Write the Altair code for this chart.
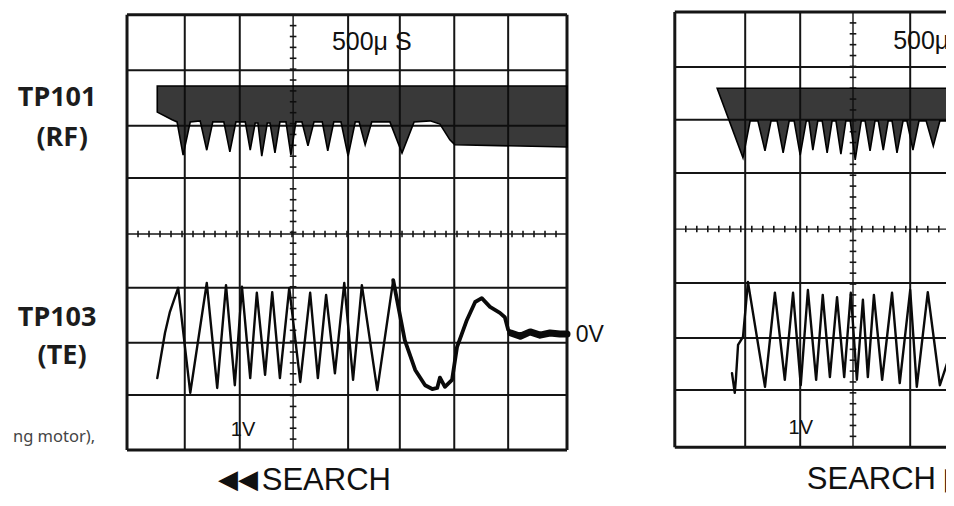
import altair as alt
import numpy as np
import pandas as pd

# ------------------------------------------------------------------
# Frame: everything is expressed in oscilloscope divisions
# (x = time divisions of the left screen, y = volts/div, 0 = centre line)
# ------------------------------------------------------------------
X_DOMAIN = [-2.164, 14.891]
Y_DOMAIN = [-4.853, 4.154]

# Graticule of the left screen (divisions)
L_GRID_X = [0.0, 1.05, 2.05, 3.02, 4.02, 4.96, 5.95, 6.93, 8.0]
L_GRID_Y = [-3.97, -2.96, -2.0, -0.99, 0.0, 1.03, 1.99, 3.01, 4.03]
L_CENTER_X = 3.02
L_CENTER_Y = 0.0

# Graticule of the right screen (cut off at the right edge)
R_GRID_X = [9.96, 11.24, 12.24, 13.2, 14.24]
R_GRID_Y = [-3.92, -2.87, -1.91, -0.90, 0.09, 1.12, 2.10, 3.07, 4.08]
R_CENTER_X = 13.2
R_CENTER_Y = 0.09

# ---------------- RF signal (TP101) envelopes ----------------
RF_L_TOP = 2.72
RF_L_T = [0.55, 0.82, 0.91, 1.02, 1.15, 1.33, 1.45, 1.56, 1.76, 1.87, 1.98, 2.15, 2.24,
          2.33, 2.38, 2.45, 2.55, 2.60, 2.69, 2.78, 2.89, 2.98, 3.07, 3.18, 3.29, 3.40,
          3.55, 3.65, 3.76, 3.89, 4.02, 4.15, 4.22, 4.33, 4.45, 4.78, 5.00, 5.22, 5.51,
          5.69, 5.87, 5.96, 8.00]
RF_L_LO = [2.24, 2.10, 2.06, 1.45, 2.06, 2.08, 1.54, 2.06, 2.06, 1.51, 2.06, 2.06, 1.54,
           2.04, 2.04, 1.43, 2.04, 2.04, 1.49, 2.06, 2.06, 1.45, 2.06, 2.06, 1.62, 2.06,
           2.06, 1.53, 2.06, 2.06, 1.43, 2.06, 2.06, 1.64, 2.06, 2.06, 1.49, 2.06, 2.08,
           2.02, 1.73, 1.64, 1.60]

RF_R_TOP = 2.68
RF_R_T = [10.73, 11.20, 11.33, 11.47, 11.60, 11.71, 11.82, 11.93, 12.04, 12.13, 12.24,
          12.35, 12.40, 12.47, 12.56, 12.64, 12.73, 12.82, 12.89, 12.98, 13.07, 13.15,
          13.24, 13.35, 13.42, 13.51, 13.60, 13.66, 13.75, 13.84, 13.91, 14.00, 14.11,
          14.18, 14.29, 14.40, 14.53, 14.66, 14.78, 14.93]
RF_R_LO = [2.68, 1.40, 2.08, 2.08, 1.53, 2.08, 2.08, 1.49, 2.08, 2.08, 1.45,
           2.08, 2.08, 1.54, 2.08, 2.08, 1.49, 2.08, 2.08, 1.47, 2.08, 2.08,
           1.36, 2.08, 2.08, 1.53, 2.08, 2.08, 1.54, 2.08, 2.08, 1.49, 2.08,
           2.08, 1.54, 2.08, 2.08, 1.62, 2.08, 2.08]

# ---------------- TE signal (TP103) ----------------
TE_L_FAST_T = [0.55, 0.69, 0.78, 0.93, 1.15, 1.45, 1.64, 1.80, 1.96, 2.09, 2.24, 2.36, 2.51,
               2.64, 2.78, 2.95, 3.15, 3.33, 3.47, 3.62, 3.78, 3.95, 4.11, 4.27, 4.55, 4.84]
TE_L_FAST_V = [-2.65, -1.82, -1.43, -0.99, -2.92, -0.90, -2.83, -0.94, -2.78, -0.97, -2.65,
               -1.08, -2.59, -1.07, -2.65, -0.99, -2.72, -1.08, -2.65, -1.12, -2.56, -0.90,
               -2.68, -0.94, -2.87, -0.85]
TE_L_SLOW_T = [4.84, 5.05, 5.24, 5.42, 5.55, 5.64, 5.69, 5.78, 5.91, 6.00, 6.18, 6.33, 6.45,
               6.60, 6.78, 6.87, 6.93, 6.98]
TE_L_SLOW_V = [-0.85, -1.95, -2.50, -2.78, -2.85, -2.83, -2.64, -2.81, -2.68, -2.08, -1.58,
               -1.25, -1.18, -1.34, -1.45, -1.53, -1.76, -1.82]
TE_L_TAIL_T = [6.98, 7.15, 7.33, 7.51, 7.69, 7.87, 8.00]
TE_L_TAIL_V = [-1.82, -1.88, -1.80, -1.86, -1.82, -1.84, -1.84]

TE_R_T = [11.00, 11.05, 11.07, 11.11, 11.20, 11.29, 11.60, 11.78, 11.96, 12.11, 12.25, 12.38,
          12.53, 12.65, 12.78, 12.91, 13.04, 13.16, 13.27, 13.38, 13.47, 13.58, 13.73, 13.91,
          14.05, 14.24, 14.36, 14.56, 14.78, 14.93]
TE_R_V = [-2.56, -2.92, -2.68, -2.04, -1.89, -0.88, -2.81, -1.08, -2.68, -1.08, -2.78, -1.03,
          -2.68, -1.12, -2.63, -1.16, -2.63, -1.08, -2.68, -1.21, -2.63, -1.12, -2.68, -1.08,
          -2.74, -1.03, -2.81, -1.07, -2.78, -2.32]

# ---------------- Text ----------------
PROBE_LABELS = ["TP101", "(RF)", "TP103", "(TE)"]
PROBE_X = [-1.27, -1.18, -1.27, -1.18]
PROBE_Y = [2.50, 1.76, -1.54, -2.24]

CAPTION = "ng motor),"
CAPTION_X = -0.58
CAPTION_Y = -3.73

SCOPE_C_TEXT = ["500μ S", "1V", "1V"]
SCOPE_C_X = [4.45, 2.11, 12.25]
SCOPE_C_Y = [3.53, -3.60, -3.57]
SCOPE_C_SIZE = [25, 20, 20]

SCOPE_L_TEXT = ["0V", "SEARCH", "500μ S", "SEARCH ▶▶"]
SCOPE_L_X = [8.16, 2.45, 13.93, 12.36]
SCOPE_L_Y = [-1.86, -4.54, 3.55, -4.52]
SCOPE_L_SIZE = [23, 31, 25, 31]

ARROW_TEXT = "◀◀"
ARROW_X = 2.02
ARROW_Y = -4.53

# ------------------------------------------------------------------
xs = alt.Scale(domain=X_DOMAIN, nice=False, zero=False)
ys = alt.Scale(domain=Y_DOMAIN, nice=False, zero=False)


def X(f):
    return alt.X(f, type="quantitative", scale=xs, axis=None)


def Y(f):
    return alt.Y(f, type="quantitative", scale=ys, axis=None)


rows = []


def hline(y, x0, x1, w):
    rows.append(dict(x=x0, x2=x1, y=y, y2=y, w=w))


def vline(x, y0, y1, w):
    rows.append(dict(x=x, x2=x, y=y0, y2=y1, w=w))


# left screen graticule
for gx in L_GRID_X:
    w = 3.0 if gx in (L_GRID_X[0], L_GRID_X[-1]) else (1.4 if gx == L_CENTER_X else 2.0)
    vline(gx, L_GRID_Y[0], L_GRID_Y[-1], w)
for gy in L_GRID_Y:
    w = 3.0 if gy in (L_GRID_Y[0], L_GRID_Y[-1]) else (1.4 if gy == L_CENTER_Y else 2.0)
    hline(gy, L_GRID_X[0], L_GRID_X[-1], w)
for t in np.arange(L_GRID_X[0], L_GRID_X[-1] + 0.01, 0.2):
    vline(t, L_CENTER_Y - 0.06, L_CENTER_Y + 0.06, 1.6)
for t in np.arange(L_GRID_Y[0], L_GRID_Y[-1] + 0.01, 0.2):
    hline(t, L_CENTER_X - 0.06, L_CENTER_X + 0.06, 1.6)

# right screen graticule
for gx in R_GRID_X:
    w = 3.0 if gx == R_GRID_X[0] else (1.4 if gx == R_CENTER_X else 2.0)
    vline(gx, R_GRID_Y[0], R_GRID_Y[-1], w)
for gy in R_GRID_Y:
    w = 3.0 if gy in (R_GRID_Y[0], R_GRID_Y[-1]) else (1.4 if gy == R_CENTER_Y else 2.0)
    hline(gy, R_GRID_X[0], X_DOMAIN[1], w)
for t in np.arange(R_GRID_X[0] + 0.2, X_DOMAIN[1], 0.2):
    vline(t, R_CENTER_Y - 0.06, R_CENTER_Y + 0.06, 1.6)
for t in np.arange(R_GRID_Y[0], R_GRID_Y[-1] + 0.01, 0.2):
    hline(t, R_CENTER_X - 0.06, R_CENTER_X + 0.06, 1.6)

grid_df = pd.DataFrame(rows)

grid = alt.Chart(grid_df).mark_rule(color="#151515", clip=True).encode(
    x=X("x"), x2="x2", y=Y("y"), y2="y2",
    strokeWidth=alt.StrokeWidth("w:Q", scale=None),
)


def rf_layer(t, lo, top):
    df = pd.DataFrame({"t": t, "lo": lo, "hi": [top] * len(t)})
    return alt.Chart(df).mark_area(
        color="#0d0d0d", fillOpacity=0.82, stroke="#000", strokeWidth=1.6, clip=True
    ).encode(x=X("t"), y=Y("lo"), y2="hi")


def te_layer(t, v, w):
    df = pd.DataFrame({"t": t, "v": v, "i": list(range(len(t)))})
    return alt.Chart(df).mark_line(
        color="#0a0a0a", strokeWidth=w, strokeJoin="round", strokeCap="round", clip=True
    ).encode(x=X("t"), y=Y("v"), order="i:Q")


probe_df = pd.DataFrame({"text": PROBE_LABELS, "x": PROBE_X, "y": PROBE_Y})
probe = alt.Chart(probe_df).mark_text(
    font="Noto Sans", fontWeight="bold", fontSize=27, color="#1c1c1c",
    align="center", baseline="middle", clip=True,
).encode(x=X("x"), y=Y("y"), text="text:N")

cap_df = pd.DataFrame({"text": [CAPTION], "x": [CAPTION_X], "y": [CAPTION_Y]})
caption = alt.Chart(cap_df).mark_text(
    font="Noto Sans", fontSize=16.5, color="#444444",
    align="right", baseline="middle",
).encode(x=X("x"), y=Y("y"), text="text:N")

sc_df = pd.DataFrame({"text": SCOPE_C_TEXT, "x": SCOPE_C_X, "y": SCOPE_C_Y, "s": SCOPE_C_SIZE})
scope_c = alt.Chart(sc_df).mark_text(
    font="Liberation Sans", color="#111", align="center", baseline="middle", clip=True,
).encode(x=X("x"), y=Y("y"), text="text:N", size=alt.Size("s:Q", scale=None))

sl_df = pd.DataFrame({"text": SCOPE_L_TEXT, "x": SCOPE_L_X, "y": SCOPE_L_Y, "s": SCOPE_L_SIZE})
scope_l = alt.Chart(sl_df).mark_text(
    font="Liberation Sans", color="#111", align="left", baseline="middle", clip=True,
).encode(x=X("x"), y=Y("y"), text="text:N", size=alt.Size("s:Q", scale=None))

ar_df = pd.DataFrame({"text": [ARROW_TEXT], "x": [ARROW_X], "y": [ARROW_Y]})
arrows = alt.Chart(ar_df).mark_text(
    font="DejaVu Sans", fontSize=26, color="#111", align="center", baseline="middle",
    clip=True,
).encode(x=X("x"), y=Y("y"), text="text:N")

chart = alt.layer(
    grid,
    rf_layer(RF_L_T, RF_L_LO, RF_L_TOP),
    rf_layer(RF_R_T, RF_R_LO, RF_R_TOP),
    te_layer(TE_L_FAST_T, TE_L_FAST_V, 2.4),
    te_layer(TE_L_SLOW_T, TE_L_SLOW_V, 3.8),
    te_layer(TE_L_TAIL_T, TE_L_TAIL_V, 7.0),
    te_layer(TE_R_T, TE_R_V, 2.4),
    probe, caption, scope_c, scope_l, arrows,
).properties(
    width=938, height=490, padding=0,
    autosize=alt.AutoSizeParams(type="none"),
    background="white",
).configure_view(stroke=None)

chart.save("out.html", embed_options={"renderer": "svg", "actions": False})
